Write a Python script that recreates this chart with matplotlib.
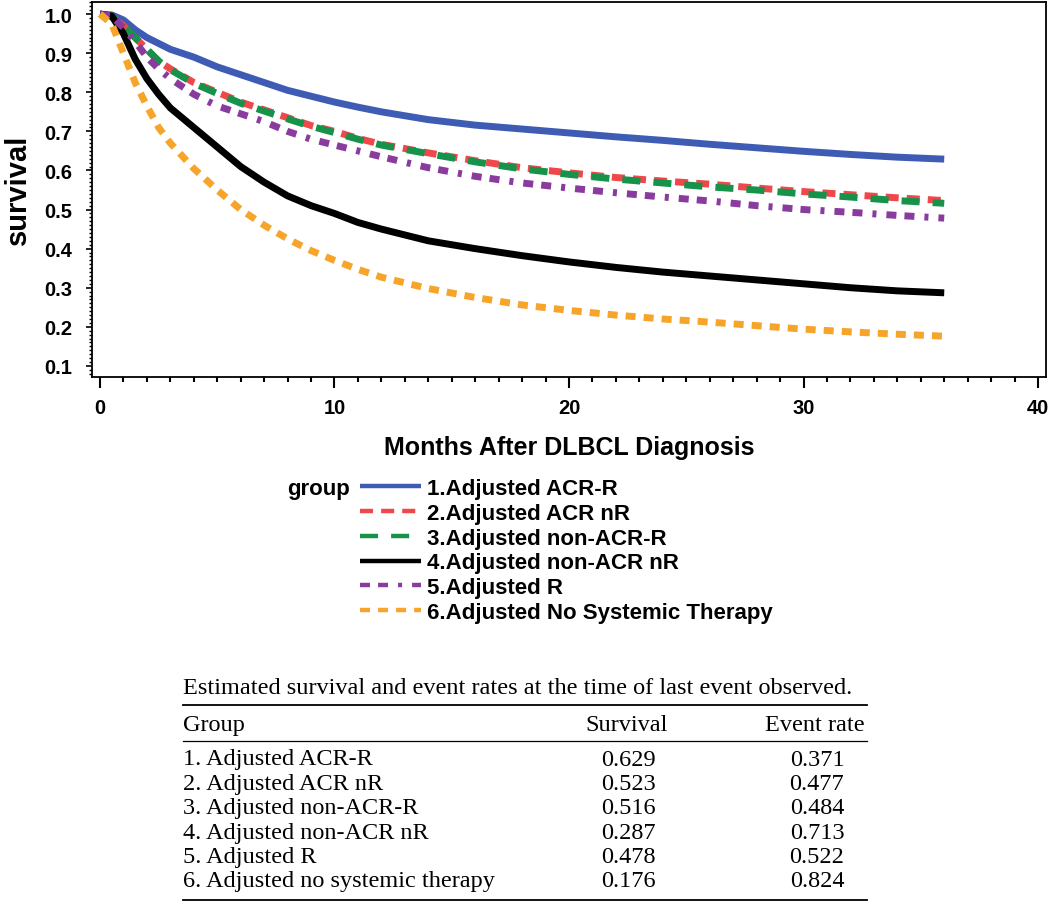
#!/usr/bin/env python3
"""Adjusted survival curves by treatment group, with summary table."""
import matplotlib
matplotlib.use("Agg")
import matplotlib.pyplot as plt
from matplotlib.lines import Line2D
from matplotlib.ticker import MultipleLocator

plt.rcParams["lines.scale_dashes"] = False

months = [0, 0.5, 1, 1.5, 2, 2.5, 3, 4, 5, 6, 7, 8, 9, 10, 11, 12,
          14, 16, 18, 20, 22, 24, 26, 28, 30, 32, 34, 36]

acr_r = [1.0, 0.998, 0.985, 0.96, 0.94, 0.925, 0.91, 0.89, 0.865, 0.845, 0.825, 0.805,
         0.79, 0.775, 0.762, 0.75, 0.73, 0.716, 0.706, 0.696, 0.686, 0.677, 0.667,
         0.658, 0.649, 0.641, 0.634, 0.629]
acr_nr = [1.0, 0.995, 0.97, 0.94, 0.91, 0.88, 0.86, 0.825, 0.80, 0.775, 0.755, 0.735,
          0.715, 0.70, 0.682, 0.667, 0.645, 0.625, 0.607, 0.594, 0.582, 0.573, 0.565,
          0.555, 0.546, 0.538, 0.53, 0.523]
non_acr_r = [1.0, 0.995, 0.97, 0.94, 0.91, 0.88, 0.858, 0.823, 0.797, 0.772, 0.752, 0.732,
             0.713, 0.697, 0.68, 0.665, 0.643, 0.622, 0.604, 0.59, 0.578, 0.568, 0.558,
             0.55, 0.54, 0.532, 0.523, 0.516]
non_acr_nr = [1.0, 0.995, 0.95, 0.885, 0.835, 0.795, 0.76, 0.71, 0.66, 0.61, 0.57, 0.535,
              0.51, 0.49, 0.467, 0.45, 0.42, 0.40, 0.382, 0.366, 0.352, 0.34, 0.33,
              0.32, 0.31, 0.30, 0.292, 0.287]
r_only = [1.0, 0.995, 0.965, 0.93, 0.89, 0.86, 0.835, 0.795, 0.765, 0.745, 0.725, 0.70,
          0.68, 0.665, 0.65, 0.635, 0.607, 0.585, 0.568, 0.555, 0.543, 0.532, 0.522,
          0.51, 0.50, 0.493, 0.485, 0.478]
no_therapy = [1.0, 0.975, 0.90, 0.825, 0.765, 0.71, 0.67, 0.605, 0.55, 0.50, 0.46, 0.425,
              0.395, 0.37, 0.347, 0.327, 0.298, 0.275, 0.256, 0.242, 0.23, 0.22, 0.212,
              0.203, 0.194, 0.187, 0.181, 0.176]

legend_labels = ["1.Adjusted ACR-R", "2.Adjusted ACR nR", "3.Adjusted non-ACR-R",
                 "4.Adjusted non-ACR nR", "5.Adjusted R", "6.Adjusted No Systemic Therapy"]

table_groups = ["1. Adjusted ACR-R", "2. Adjusted ACR nR", "3. Adjusted non-ACR-R",
                "4. Adjusted non-ACR nR", "5. Adjusted R", "6. Adjusted no systemic therapy"]
table_survival = ["0.629", "0.523", "0.516", "0.287", "0.478", "0.176"]
table_event = ["0.371", "0.477", "0.484", "0.713", "0.522", "0.824"]

series = [acr_r, acr_nr, non_acr_r, non_acr_nr, r_only, no_therapy]
colors = ["#3f5cb4", "#f0484a", "#16924a", "#000000", "#8a3c9e", "#f7a42a"]
dashes = [None, (9.4, 5.8), (13, 9.4), None, (7.2, 5.8, 7.2, 7.2, 2.9, 7.2), (7.2, 5.8)]

W, H = 1050, 912
fig = plt.figure(figsize=(W / 100, H / 100), dpi=100)
ax = fig.add_axes([92 / W, 1 - 378 / H, (1046 - 92) / W, (378 - 3) / H])

sans = "Liberation Sans"
serif = "Liberation Serif"

handles = []
for ys, c, d, lab in zip(series, colors, dashes, legend_labels):
    ln, = ax.plot(months, ys, color=c, lw=5, solid_capstyle="butt", dash_capstyle="butt")
    h = Line2D([], [], color=c, lw=3.2, solid_capstyle="butt", dash_capstyle="butt")
    if d is not None:
        ln.set_dashes(d)
        h.set_dashes(d)
    handles.append(h)

ax.set_xlim(-0.34, 40.34)
ax.set_ylim(0.0716, 1.031)
ax.xaxis.set_major_locator(MultipleLocator(10))
ax.xaxis.set_minor_locator(MultipleLocator(1))
ax.set_yticks([0.1, 0.2, 0.3, 0.4, 0.5, 0.6, 0.7, 0.8, 0.9, 1.0])
ax.yaxis.set_minor_locator(MultipleLocator(0.01))
ax.set_yticklabels(["0.1", "0.2", "0.3", "0.4", "0.5", "0.6", "0.7", "0.8", "0.9", "1.0"])
ax.tick_params(axis="x", which="major", direction="out", length=8, width=1.5, pad=7)
ax.tick_params(axis="x", which="minor", direction="out", length=3.5, width=1.5)
ax.tick_params(axis="y", which="major", direction="out", length=4, width=1.2, pad=10)
ax.tick_params(axis="y", which="minor", direction="out", length=2.5, width=1.0)
for lab in ax.get_xticklabels() + ax.get_yticklabels():
    lab.set_fontfamily(sans)
    lab.set_fontweight("bold")
    lab.set_fontsize(14.5)
for sp in ax.spines.values():
    sp.set_linewidth(1.3)

fig.text(569 / W, 1 - 448 / H, "Months After DLBCL Diagnosis", family=sans, weight="bold",
         fontsize=18, ha="center", va="center")
fig.text(18 / W, 1 - 190 / H, "survival", family=sans, weight="bold", fontsize=21,
         ha="center", va="center", rotation=90)

# legend
fig.text(287 / W, 1 - 490 / H, "group", family=sans, weight="bold", fontsize=16,
         ha="left", va="center")
fig.legend(handles, legend_labels, loc="upper left", bbox_to_anchor=(360 / W, 1 - 479 / H),
           frameon=False, borderpad=0, borderaxespad=0, handlelength=2.75,
           handletextpad=0.25, labelspacing=0.17,
           prop={"family": sans, "weight": "bold", "size": 16})

# table below the chart
def fy(y):
    return 1 - y / H

x0, x1 = 183 / W, 867 / W
fs = 17.5
fig.text(x0, fy(689), "Estimated survival and event rates at the time of last event observed.",
         family=serif, fontsize=fs, ha="left", va="center")
fig.add_artist(Line2D([x0, x1], [fy(706), fy(706)], color="black", lw=1.3))
fig.text(x0, fy(726), "Group", family=serif, fontsize=fs, ha="left", va="center")
fig.text(627 / W, fy(726), "Survival", family=serif, fontsize=fs, ha="center", va="center")
fig.text(865 / W, fy(726), "Event rate", family=serif, fontsize=fs, ha="right", va="center")
fig.add_artist(Line2D([x0, x1], [fy(742), fy(742)], color="black", lw=0.9))
for i, (g, s, e) in enumerate(zip(table_groups, table_survival, table_event)):
    y = fy(760 + 24.4 * i)
    fig.text(x0, y, g, family=serif, fontsize=fs, ha="left", va="center")
    fig.text(628 / W, y, s, family=serif, fontsize=fs, ha="center", va="center")
    fig.text(817 / W, y, e, family=serif, fontsize=fs, ha="center", va="center")
fig.add_artist(Line2D([x0, x1], [fy(901), fy(901)], color="black", lw=1.3))

fig.savefig("out.png", dpi=100)
